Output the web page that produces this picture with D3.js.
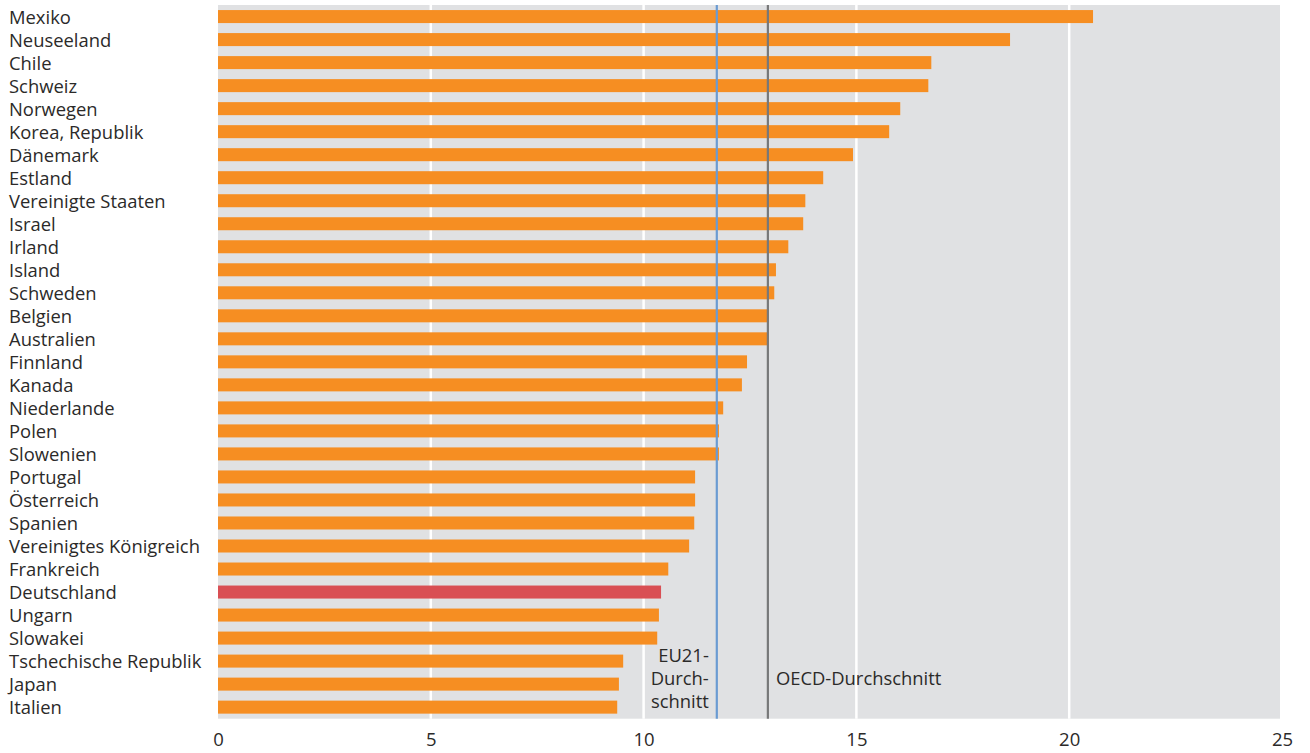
<!DOCTYPE html>
<html><head><meta charset="utf-8">
<script src="https://cdn.jsdelivr.net/npm/d3@7"></script>
<style>body{margin:0;background:#fff}svg{display:block}text{font-family:"Open Sans",sans-serif;fill:#2b2a29}</style>
</head><body><svg id="c" width="1310" height="753"></svg>
<script>
const countries = ["Mexiko","Neuseeland","Chile","Schweiz","Norwegen","Korea, Republik","Dänemark","Estland","Vereinigte Staaten","Israel","Irland","Island","Schweden","Belgien","Australien","Finnland","Kanada","Niederlande","Polen","Slowenien","Portugal","Österreich","Spanien","Vereinigtes Königreich","Frankreich","Deutschland","Ungarn","Slowakei","Tschechische Republik","Japan","Italien"];
const values = [20.56,18.61,16.76,16.69,16.03,15.77,14.92,14.22,13.80,13.75,13.40,13.11,13.07,12.93,12.93,12.43,12.31,11.87,11.77,11.77,11.21,11.21,11.19,11.07,10.58,10.41,10.36,10.32,9.52,9.42,9.38];
const highlight = ["Deutschland"];
const xTicks = [0,5,10,15,20,25];
const eu21 = 11.72, oecd = 12.92;

const svg = d3.select("#c");
const L = 218, R = 1280, T = 5, B = 718.7;
const x = d3.scaleLinear().domain([0,25]).range([218, 1282]);
const y = d3.scaleBand().domain(countries).range([T, B]).paddingInner(0.435).paddingOuter(0.22);

svg.append("rect").attr("x",L).attr("y",T).attr("width",R-L).attr("height",B-T).attr("fill","#e0e1e3");
svg.selectAll(".grid").data(xTicks.filter(d=>d>0&&d<25)).join("line")
  .attr("x1",d=>x(d)).attr("x2",d=>x(d)).attr("y1",T).attr("y2",B)
  .attr("stroke","#fff").attr("stroke-width",2.5);

svg.selectAll(".bar").data(countries).join("rect")
  .attr("x",x(0)).attr("y",d=>y(d)).attr("height",y.bandwidth())
  .attr("width",(d,i)=>x(values[i])-x(0))
  .attr("fill",d=>highlight.includes(d)?"#d94f54":"#f68e22");

svg.append("line").attr("x1",x(eu21)).attr("x2",x(eu21)).attr("y1",T).attr("y2",B).attr("stroke","#6a9bd2").attr("stroke-width",2.2);
svg.append("line").attr("x1",x(oecd)).attr("x2",x(oecd)).attr("y1",T).attr("y2",B).attr("stroke","#777879").attr("stroke-width",2.2);

svg.selectAll(".lab").data(countries).join("text")
  .attr("x",9).attr("y",d=>y(d)+y.bandwidth()/2).attr("dy","0.4em")
  .attr("font-size",18.4).text(d=>d);

const xa = svg.append("g").attr("transform",`translate(0,${B})`)
  .call(d3.axisBottom(x).tickValues(xTicks).tickSize(0).tickPadding(14).tickFormat(d3.format("d")));
xa.select(".domain").remove();
xa.selectAll("text").attr("font-size",18.5).style("font-family","'Open Sans',sans-serif").attr("fill","#2b2a29");

const eut = svg.append("text").attr("text-anchor","end").attr("font-size",18.4);
["EU21-","Durch-","schnitt"].forEach((s,i)=>eut.append("tspan").attr("x",x(eu21)-8).attr("y",662+i*23).text(s));
svg.append("text").attr("x",x(oecd)+8).attr("y",685).attr("font-size",18.4).text("OECD-Durchschnitt");
</script></body></html>
